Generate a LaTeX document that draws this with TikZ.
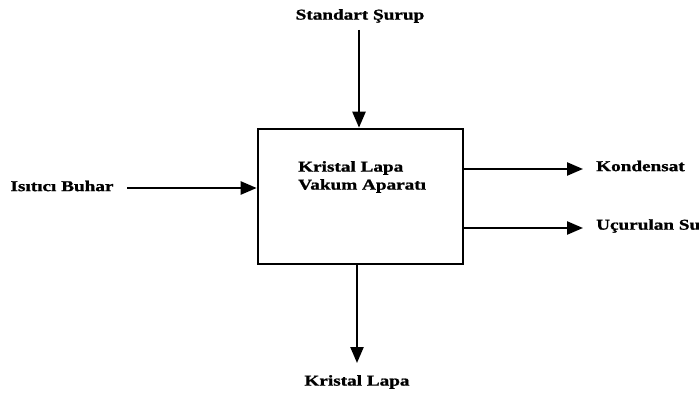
\documentclass[tikz,border=0pt]{standalone}
\usepackage{fontspec}
\setmainfont{Liberation Serif}
\newfontfamily\labfont[FakeStretch=1.28,FakeBold=1.2]{Liberation Serif}
\usetikzlibrary{arrows.meta}
\begin{document}
\begin{tikzpicture}[x=1pt,y=-1pt,
  lbl/.style={inner sep=0pt,font=\labfont\fontsize{15}{17}\bfseries},
  flow/.style={line width=2.4pt,-{Triangle[length=16pt,width=13pt]}},
  unit/.style={draw,line width=2.6pt,minimum width=205pt,minimum height=135pt,inner sep=0pt}]
\useasboundingbox (0,0) rectangle (699,401);
% process block
\node[unit] (box) at (360.5,196.5) {};
\node[lbl,align=left,anchor=north west] (boxtxt) at (298,161) {Kristal Lapa\\[1pt]Vakum Aparatı};
% labels of streams
\node[lbl] (syrup) at (360,16) {Standart Şurup};
\node[lbl] (steam) at (62,186) {Isıtıcı Buhar};
\node[lbl,anchor=west] (cond) at (596,166) {Kondensat};
\node[lbl,anchor=west] (water) at (596,226) {Uçurulan Su};
\node[lbl] (mass) at (357,382) {Kristal Lapa};
% stream end points
\coordinate (syrupS) at (359,30);
\coordinate (steamS) at (127,188);
\coordinate (condE) at (583,169);
\coordinate (waterE) at (583,228);
\coordinate (massE) at (357,363);
% streams
\draw[flow] (syrupS) -- (syrupS |- box.north);
\draw[flow] (steamS) -- (steamS -| box.west);
\draw[flow] (condE -| box.east) -- (condE);
\draw[flow] (waterE -| box.east) -- (waterE);
\draw[flow] (massE |- box.south) -- (massE);
\end{tikzpicture}
\end{document}
